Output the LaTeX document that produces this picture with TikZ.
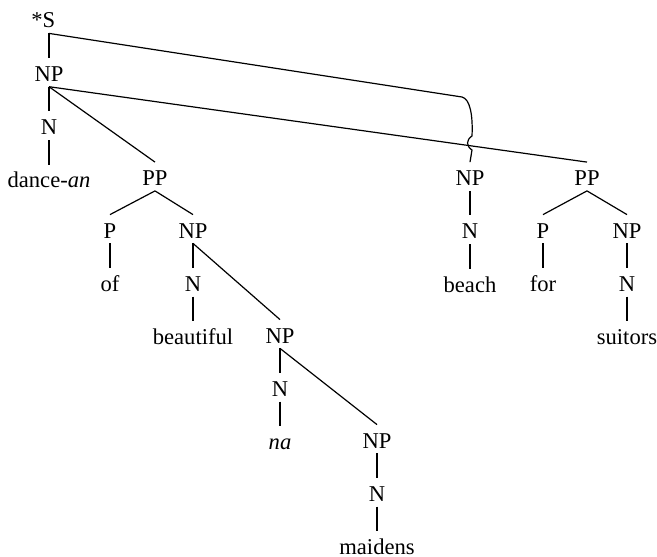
\documentclass[tikz,border=0pt]{standalone}
\usepackage{fontspec}
\setmainfont{Liberation Serif}
\usetikzlibrary{positioning}

\begin{document}
\begin{tikzpicture}[
  x = 0.5pt, y = -0.5pt,
  node distance = 12.25pt and 0pt,
  cat/.style = {inner sep=0pt, text height=11.5pt, text depth=2.5pt,
                font=\fontsize{11.3}{13}\selectfont},
  branch/.style = {line width=0.6pt, line join=round}
]
\useasboundingbox (0,0) rectangle (657,556);

% main spine
\node[cat] (s) at (49,19) {\llap{*}S};
\node[cat, below=of s]   (np1)   {NP};
\node[cat, below=of np1] (n1)    {N};
\node[cat, below=of n1]  (dance) {dance-\textit{an}};

% of beautiful na maidens
\node[cat] (pp1) at (155,176.5) {PP};
\node[cat] (p1)  at (110,229)   {P};
\node[cat, below=of p1]  (of)  {of};
\node[cat] (np2) at (193,229)   {NP};
\node[cat, below=of np2] (n2)  {N};
\node[cat, below=of n2]  (beautiful) {beautiful};
\node[cat] (np3) at (280,334)   {NP};
\node[cat, below=of np3] (n3)  {N};
\node[cat, below=of n3]  (na)  {\textit{na}};
\node[cat] (np4) at (377,439)   {NP};
\node[cat, below=of np4] (n4)  {N};
\node[cat, below=of n4]  (maidens) {maidens};

% beach
\node[cat] (np5) at (470,176.5) {NP};
\node[cat, below=of np5] (n5)  {N};
\node[cat, below=of n5]  (beach) {beach};

% for suitors
\node[cat] (pp2) at (587,176.5) {PP};
\node[cat] (p2)  at (543,229)   {P};
\node[cat, below=of p2]  (for) {for};
\node[cat] (np6) at (627,229)   {NP};
\node[cat, below=of np6] (n6)  {N};
\node[cat, below=of n6]  (suitors) {suitors};

\draw[branch] (s.south) -- (np1.north);
\draw[branch] (s.south) -- (462,97) .. controls (470,99) and (473,115) .. (472,136)
  .. controls (466,140) and (466,146) .. (472,150) -- (np5.north);
\draw[branch] (np1.south) -- (n1.north);
\draw[branch] (np1.south) -- (pp1.north);
\draw[branch] (np1.south) -- (pp2.north);
\draw[branch] (n1.south)  -- (dance.north);

\draw[branch] (pp1.south) -- (p1.north);
\draw[branch] (pp1.south) -- (np2.north);
\draw[branch] (p1.south)  -- (of.north);
\draw[branch] (np2.south) -- (n2.north);
\draw[branch] (np2.south) -- (np3.north);
\draw[branch] (n2.south)  -- (beautiful.north);
\draw[branch] (np3.south) -- (n3.north);
\draw[branch] (np3.south) -- (np4.north);
\draw[branch] (n3.south)  -- (na.north);
\draw[branch] (np4.south) -- (n4.north);
\draw[branch] (n4.south)  -- (maidens.north);

\draw[branch] (np5.south) -- (n5.north);
\draw[branch] (n5.south)  -- (beach.north);

\draw[branch] (pp2.south) -- (p2.north);
\draw[branch] (pp2.south) -- (np6.north);
\draw[branch] (p2.south)  -- (for.north);
\draw[branch] (np6.south) -- (n6.north);
\draw[branch] (n6.south)  -- (suitors.north);

\end{tikzpicture}
\end{document}
